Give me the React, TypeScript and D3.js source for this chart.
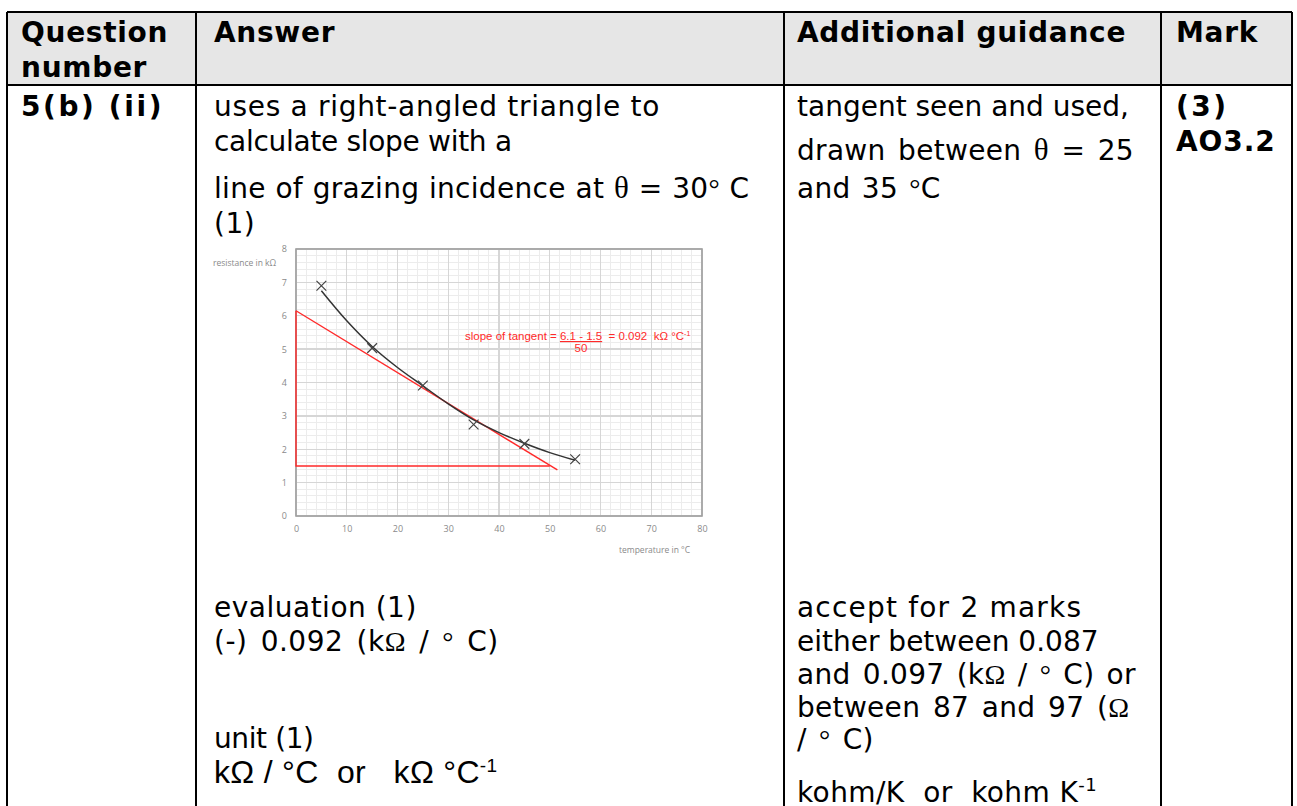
import { useEffect, useRef } from 'react';
import * as d3 from 'd3';

// ── chart data ──
const tempTicks = [0, 10, 20, 30, 40, 50, 60, 70, 80];
const resTicks = [0, 1, 2, 3, 4, 5, 6, 7, 8];
const measuredTemp = [5, 15, 25, 35, 45, 55];
const measuredRes = [6.9, 5.03, 3.91, 2.74, 2.16, 1.7];
const curveTemp = [5, 10, 15, 20, 25, 30, 35, 40, 45, 50, 55];
const curveRes = [6.75, 5.85, 5.08, 4.45, 3.9, 3.36, 2.88, 2.5, 2.18, 1.9, 1.67];
const tangentTemp = [0, 51.5];
const tangentRes = [6.15, 1.38];
const triangleTemp = [0, 0, 50];
const triangleRes = [6.15, 1.5, 1.5];

// ── table text ──
const headerQuestion = ['Question', 'number'];
const guidanceTop = ['tangent seen and used,'];
const guidanceBottom = ['accept for 2 marks', 'either between 0.087'];

const W = 1297;
const H = 806;
const COL_X = [7, 196, 784, 1161, 1292];
const TEXT_X = [21, 214, 797, 1176];
const TABLE_TOP = 12;
const HEAD_BOTTOM = 85;
const PLOT = { left: 296, right: 702, top: 249, bottom: 516 };

const BODY_FONT = '"DejaVu Sans", Verdana, sans-serif';
const SERIF = '"Liberation Serif", "DejaVu Serif", serif';
const ARIAL = '"Liberation Sans", Arial, sans-serif';

function TangentChart() {
  const ref = useRef<SVGGElement>(null);

  useEffect(() => {
    if (!ref.current) return;
    const g = d3.select(ref.current);
    g.selectAll('*').remove();

    const x = d3.scaleLinear().domain([0, 80]).range([PLOT.left, PLOT.right]);
    const y = d3.scaleLinear().domain([0, 8]).range([PLOT.bottom, PLOT.top]);

    // minor grid
    const minor = g.append('g').attr('stroke', '#ececec').attr('stroke-width', 1).attr('shape-rendering', 'crispEdges');
    minor.selectAll('.vx').data(x.ticks(40)).join('line')
      .attr('x1', (d) => x(d)).attr('x2', (d) => x(d))
      .attr('y1', PLOT.top).attr('y2', PLOT.bottom);
    minor.selectAll('.hy').data(y.ticks(40)).join('line')
      .attr('y1', (d) => y(d)).attr('y2', (d) => y(d))
      .attr('x1', PLOT.left).attr('x2', PLOT.right);

    // major grid
    const major = g.append('g').attr('stroke', '#d6d6d6').attr('stroke-width', 1.3).attr('shape-rendering', 'crispEdges');
    major.selectAll('.vx').data(tempTicks).join('line')
      .attr('x1', (d) => x(d)).attr('x2', (d) => x(d))
      .attr('y1', PLOT.top).attr('y2', PLOT.bottom);
    major.selectAll('.hy').data(resTicks).join('line')
      .attr('y1', (d) => y(d)).attr('y2', (d) => y(d))
      .attr('x1', PLOT.left).attr('x2', PLOT.right);

    // plot frame
    g.append('rect')
      .attr('x', PLOT.left).attr('y', PLOT.top)
      .attr('width', PLOT.right - PLOT.left).attr('height', PLOT.bottom - PLOT.top)
      .attr('fill', 'none').attr('stroke', '#a0a0a0').attr('stroke-width', 1.6);

    // axes
    const xAxis = g.append('g')
      .attr('transform', `translate(0,${PLOT.bottom})`)
      .call(d3.axisBottom(x).tickValues(tempTicks).tickSize(0).tickPadding(10));
    const yAxis = g.append('g')
      .attr('transform', `translate(${PLOT.left},0)`)
      .call(d3.axisLeft(y).tickValues(resTicks).tickSize(0).tickPadding(9));
    [xAxis, yAxis].forEach((a) => {
      a.select('.domain').remove();
      a.attr('font-family', '"Open Sans", sans-serif').attr('font-size', 9);
      a.selectAll('.tick text').attr('fill', '#8a8a8a');
    });

    // axis titles
    g.append('text')
      .attr('x', 213).attr('y', 266)
      .attr('font-family', '"Open Sans", sans-serif').attr('font-size', 8.5)
      .attr('fill', '#8a8a8a')
      .text('resistance in kΩ');
    g.append('text')
      .attr('x', 619).attr('y', 553)
      .attr('font-family', '"Open Sans", sans-serif').attr('font-size', 8.5)
      .attr('fill', '#8a8a8a')
      .text('temperature in °C');

    // red triangle + tangent
    const red = '#ff2a2a';
    const pts = (xs: number[], ys: number[]) => xs.map((t, i) => [t, ys[i]] as [number, number]);
    const line = d3.line<[number, number]>().x((d) => x(d[0])).y((d) => y(d[1]));
    g.append('path').attr('d', line(pts(triangleTemp, triangleRes)))
      .attr('fill', 'none').attr('stroke', red).attr('stroke-width', 1.4);
    g.append('path').attr('d', line(pts(tangentTemp, tangentRes)))
      .attr('fill', 'none').attr('stroke', red).attr('stroke-width', 1.4);

    // fitted curve
    const curve = d3.line<[number, number]>().x((d) => x(d[0])).y((d) => y(d[1])).curve(d3.curveCatmullRom);
    g.append('path').attr('d', curve(pts(curveTemp, curveRes)))
      .attr('fill', 'none').attr('stroke', '#333').attr('stroke-width', 1.5);

    // measured points (×)
    g.selectAll('.pt').data(pts(measuredTemp, measuredRes)).join('path')
      .attr('transform', (d) => `translate(${x(d[0])},${y(d[1])})`)
      .attr('d', d3.symbol().type(d3.symbolX).size(64)())
      .attr('fill', 'none').attr('stroke', '#444').attr('stroke-width', 1.2);

    // slope annotation
    const ann = g.append('text')
      .attr('x', 465).attr('y', 340)
      .attr('font-family', ARIAL).attr('font-size', 11.5)
      .attr('xml:space', 'preserve')
      .attr('fill', red);
    ann.append('tspan').text('slope of tangent = ');
    ann.append('tspan').attr('text-decoration', 'underline').text('6.1 - 1.5');
    ann.append('tspan').text('  = 0.092  kΩ °C');
    ann.append('tspan').attr('font-size', 7).attr('dy', -4).text('-1');
    g.append('text')
      .attr('x', 581).attr('y', 352).attr('text-anchor', 'middle')
      .attr('font-family', ARIAL).attr('font-size', 11.5).attr('fill', red)
      .text('50');
  }, []);

  return <g ref={ref} />;
}

export default function App() {
  const tx = TEXT_X;
  return (
    <svg
      width={W}
      height={H}
      style={{ position: 'absolute', left: 0, top: 0, background: '#fff' }}
      fontFamily={BODY_FONT}
    >
      {/* header band */}
      <rect x={COL_X[0]} y={TABLE_TOP} width={COL_X[4] - COL_X[0]} height={HEAD_BOTTOM - TABLE_TOP} fill="#e6e6e6" />

      {/* header text */}
      <g fontWeight="bold" fontSize={28} letterSpacing={0.7}>
        {headerQuestion.map((t, i) => (
          <text key={t} x={tx[0]} y={42 + i * 35}>{t}</text>
        ))}
        <text x={tx[1]} y={42}>Answer</text>
        <text x={tx[2]} y={42}>Additional guidance</text>
        <text x={tx[3]} y={42}>Mark</text>
      </g>

      {/* body: question number + mark */}
      <g fontWeight="bold" fontSize={28} letterSpacing={0.9}>
        <text x={tx[0]} y={116} letterSpacing={2.6}>5(b) (ii)</text>
        <text x={tx[3]} y={116} letterSpacing={2.5}>(3)</text>
        <text x={tx[3]} y={151}>AO3.2</text>
      </g>

      {/* answer column */}
      <g fontSize={28} letterSpacing={0.5}>
        <text x={tx[1]} y={116} letterSpacing={0.7}>uses a right-angled triangle to</text>
        <text x={tx[1]} y={151} letterSpacing={-0.3}>calculate slope with a</text>
        <text x={tx[1]} y={198} letterSpacing={0.3} wordSpacing={0.5}>
          line of grazing incidence at <tspan fontFamily={SERIF} fontSize={31}>θ</tspan> = 30<tspan fontFamily={SERIF}>°</tspan> C
        </text>
        <text x={tx[1]} y={233}>(1)</text>
        <text x={tx[1]} y={617}>evaluation (1)</text>
        <text x={tx[1]} y={651} wordSpacing={3.8}>
          (-) 0.092 (k<tspan fontFamily={SERIF}>Ω</tspan> / <tspan fontFamily={SERIF}>°</tspan> C)
        </text>
        <text x={tx[1]} y={748} letterSpacing={-0.4}>unit (1)</text>
        <text x={tx[1]} y={783} fontFamily={ARIAL} fontSize={32} letterSpacing={0.3} xmlSpace="preserve">
          kΩ / °C  or   kΩ °C<tspan fontSize={19} dy={-11}>-1</tspan>
        </text>
      </g>

      <TangentChart />

      {/* guidance column */}
      <g fontSize={28} letterSpacing={0.3}>
        {guidanceTop.map((t) => (
          <text key={t} x={tx[2]} y={116} letterSpacing={0}>{t}</text>
        ))}
        <text x={tx[2]} y={160} wordSpacing={3.3}>
          drawn between <tspan fontFamily={SERIF} fontSize={31}>θ</tspan> = 25
        </text>
        <text x={tx[2]} y={198} wordSpacing={2}>
          and 35 <tspan fontFamily={SERIF}>°</tspan>C
        </text>
        {guidanceBottom.map((t, i) => (
          <text key={t} x={tx[2]} y={617 + i * 34} letterSpacing={i === 0 ? 1.2 : 0}>{t}</text>
        ))}
        <text x={tx[2]} y={684} wordSpacing={3}>
          and 0.097 (k<tspan fontFamily={SERIF}>Ω</tspan> / <tspan fontFamily={SERIF}>°</tspan> C) or
        </text>
        <text x={tx[2]} y={717} wordSpacing={3.5}>
          between 87 and 97 (<tspan fontFamily={SERIF}>Ω</tspan>
        </text>
        <text x={tx[2]} y={749} wordSpacing={3}>
          / <tspan fontFamily={SERIF}>°</tspan> C)
        </text>
        <text x={tx[2]} y={802} letterSpacing={0.4} xmlSpace="preserve">
          kohm/K  or  kohm K<tspan fontSize={18} dy={-11}>-1</tspan>
        </text>
      </g>

      {/* table rules */}
      <g stroke="#000" strokeWidth={2} shapeRendering="crispEdges">
        <line x1={COL_X[0]} x2={COL_X[4]} y1={TABLE_TOP} y2={TABLE_TOP} />
        <line x1={COL_X[0]} x2={COL_X[4]} y1={HEAD_BOTTOM} y2={HEAD_BOTTOM} />
        {COL_X.map((c) => (
          <line key={c} x1={c} x2={c} y1={TABLE_TOP} y2={H} />
        ))}
      </g>
    </svg>
  );
}
